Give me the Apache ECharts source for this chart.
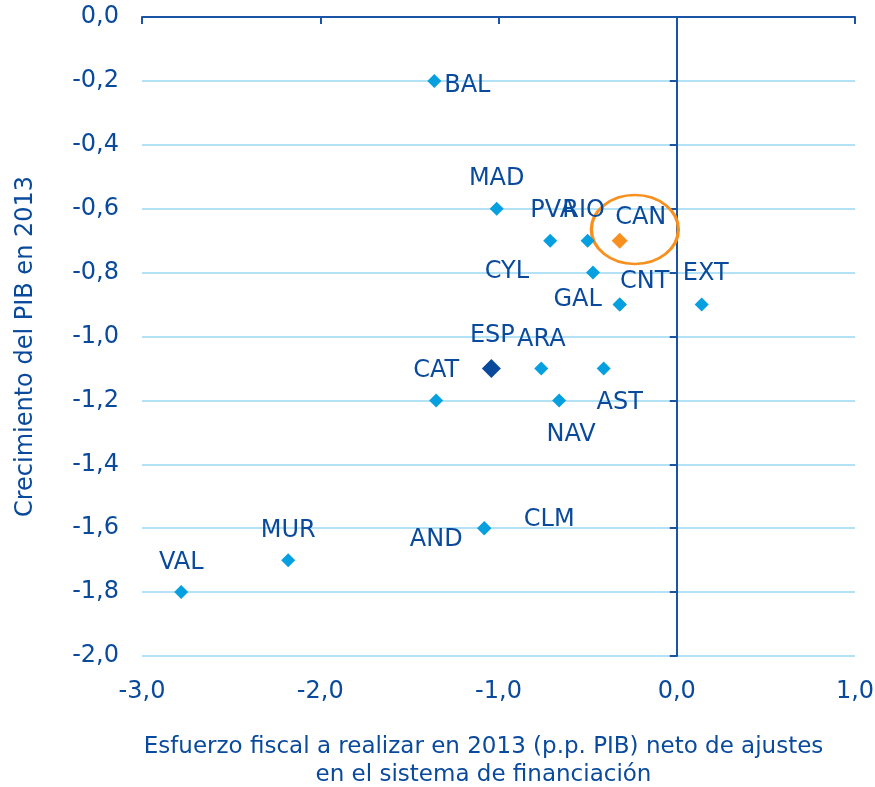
<!DOCTYPE html>
<html>
<head>
<meta charset="utf-8">
<script src="https://cdn.jsdelivr.net/npm/echarts@6/dist/echarts.min.js"></script>
<style>
  html, body { margin: 0; padding: 0; background: #fff; }
  #chart { width: 875px; height: 787px; }
</style>
</head>
<body>
<div id="chart"></div>
<script>
// Datos: esfuerzo fiscal (x) y crecimiento del PIB (y) por comunidad
const regions = ['BAL', 'MAD', 'PVA', 'RIO', 'CAN', 'CYL', 'GAL', 'CNT', 'EXT',
  'ESP', 'ARA', 'AST', 'CAT', 'NAV', 'AND', 'CLM', 'MUR', 'VAL'];
const effort = [-1.36, -1.01, -0.71, -0.50, -0.32, -0.47, -0.32, -0.32, 0.14,
  -1.04, -0.76, -0.41, -1.35, -0.66, -1.08, -1.08, -2.18, -2.78];
const growth = [-0.2, -0.6, -0.7, -0.7, -0.7, -0.8, -0.9, -0.9, -0.9,
  -1.1, -1.1, -1.1, -1.2, -1.2, -1.6, -1.6, -1.7, -1.8];

// Elipse que resalta Canarias (coordenadas de datos)
const highlight = [-0.235, -0.665];

const xTicks = [-3, -2, -1, 0, 1];
const yTicks = [0, -0.2, -0.4, -0.6, -0.8, -1.0, -1.2, -1.4, -1.6, -1.8, -2.0];

// Colores
const TEXT = '#0a4a9c';
const LIGHT = '#06a0e0';
const DARK = '#0a4a9c';
const ORANGE = '#f7901e';
const GRID = '#b3e2f7';
const AXIS = '#1a55a5';
const FONT = 'DejaVu Sans';

// Desplazamiento de cada etiqueta respecto a su punto (px)
const labelOffset = {
  BAL: [33, 5], MAD: [0, -30], PVA: [3, -30], RIO: [-4, -30], CAN: [21, -23],
  CYL: [-86, -1], GAL: [-42, -5], CNT: [25, -23], EXT: [4, -31], ESP: [1, -33],
  ARA: [0, -29], AST: [16, 34], CAT: [0, -30], NAV: [12, 34], AND: [-48, 12],
  CLM: [65, -8], MUR: [0, -29], VAL: [0, -29]
};

const fmt = v => v.toFixed(1).replace('.', ',');

const points = regions.map((name, i) => {
  let color = LIGHT, size = 14;
  if (name === 'ESP') { color = DARK; size = 19; }
  if (name === 'CAN') { color = ORANGE; size = 16; }
  return {
    name: name,
    value: [effort[i], growth[i]],
    symbolSize: size,
    itemStyle: { color: color, opacity: 1 },
    label: { offset: labelOffset[name] }
  };
});

const chart = echarts.init(document.getElementById('chart'));

chart.setOption({
  animation: false,
  textStyle: { fontFamily: FONT },
  grid: { left: 142, right: 20, top: 17, bottom: 131, outerBoundsMode: 'none', containLabel: false },
  xAxis: [
    {
      type: 'value', min: xTicks[0], max: xTicks[xTicks.length - 1], interval: 1,
      position: 'bottom',
      axisLine: { show: false, onZero: false },
      axisTick: { show: false },
      splitLine: { show: false },
      axisLabel: { color: TEXT, fontSize: 24, fontFamily: FONT, margin: 24, formatter: fmt },
      name: 'Esfuerzo fiscal a realizar en 2013 (p.p. PIB) neto de ajustes\nen el sistema de financiación',
      nameLocation: 'middle',
      nameGap: 77,
      nameTextStyle: { color: TEXT, fontSize: 23, fontFamily: FONT, lineHeight: 28, padding: [0, 30, 0, 0] }
    },
    {
      type: 'value', min: xTicks[0], max: xTicks[xTicks.length - 1], interval: 1,
      position: 'top',
      axisLine: { show: true, onZero: true, lineStyle: { color: AXIS, width: 2 } },
      axisTick: { show: true, inside: true, length: 7, lineStyle: { color: AXIS, width: 2 } },
      axisLabel: { show: false },
      splitLine: { show: false }
    }
  ],
  yAxis: [
    {
      type: 'value', min: -2, max: 0, interval: 0.2,
      position: 'left',
      axisLine: { show: false, onZero: false },
      axisTick: { show: false },
      splitLine: { show: true, lineStyle: { color: GRID, width: 2 } },
      axisLabel: { color: TEXT, fontSize: 24, fontFamily: FONT, margin: 23, formatter: fmt },
      name: 'Crecimiento del PIB en 2013',
      nameLocation: 'middle',
      nameGap: 104,
      nameTextStyle: { color: TEXT, fontSize: 24, fontFamily: FONT, padding: [0, 20, 0, 0] }
    },
    {
      type: 'value', min: -2, max: 0, interval: 0.2,
      position: 'right',
      axisLine: { show: true, onZero: true, lineStyle: { color: AXIS, width: 2 } },
      axisTick: { show: true, inside: true, length: 7, lineStyle: { color: AXIS, width: 2 } },
      axisLabel: { show: false },
      splitLine: { show: false }
    }
  ],
  series: [
    {
      type: 'scatter',
      xAxisIndex: 0,
      yAxisIndex: 0,
      symbol: 'diamond',
      data: points,
      z: 3,
      label: {
        show: true,
        position: 'inside',
        formatter: '{b}',
        color: TEXT,
        fontSize: 24,
        fontFamily: FONT,
        align: 'center',
        verticalAlign: 'middle'
      },
      emphasis: { disabled: true }
    },
    {
      type: 'scatter',
      xAxisIndex: 0,
      yAxisIndex: 0,
      symbol: 'circle',
      symbolSize: [87, 69],
      silent: true,
      z: 2,
      itemStyle: { color: 'rgba(0,0,0,0)', borderColor: ORANGE, borderWidth: 3, opacity: 1 },
      data: [highlight]
    }
  ]
});
</script>
</body>
</html>
